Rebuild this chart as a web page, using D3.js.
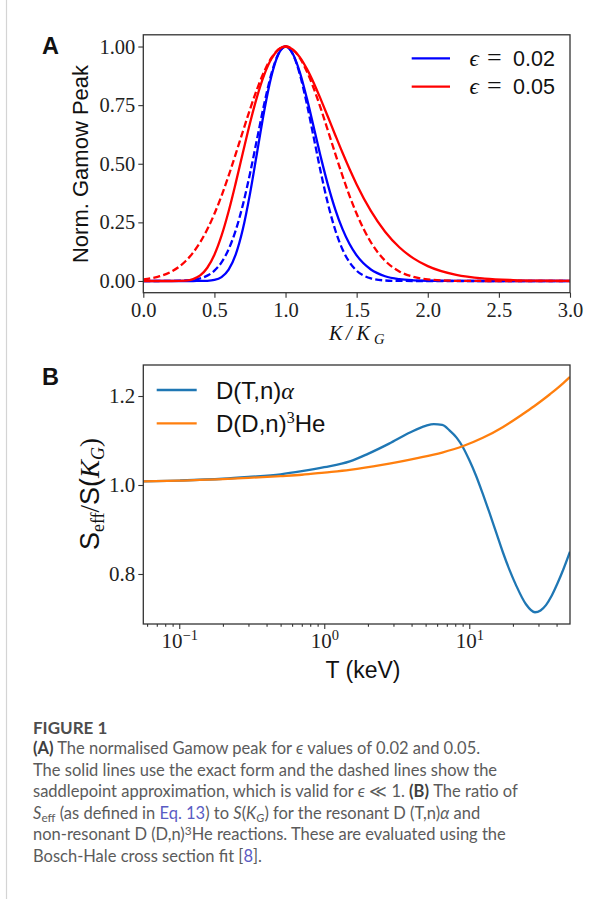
<!DOCTYPE html>
<html>
<head>
<meta charset="utf-8">
<script src="https://cdn.jsdelivr.net/npm/d3@7"></script>
<style>
  body { margin: 0; background: #fff; }
  svg { display: block; }
</style>
</head>
<body>
<svg id="fig" width="613" height="899"></svg>
<script>
// ---------- Panel A: normalised Gamow peak against K/K_G ----------
const kRatio = [0, 0.1, 0.2, 0.3, 0.35, 0.4, 0.45, 0.5, 0.55, 0.6, 0.65, 0.7, 0.75, 0.8, 0.85, 0.9, 0.95,
                1.0, 1.05, 1.1, 1.15, 1.2, 1.25, 1.3, 1.35, 1.4, 1.45, 1.5, 1.6, 1.7, 1.8, 1.9, 2.0,
                2.2, 2.4, 2.6, 2.8, 3.0];
// epsilon = 0.02, exact form
const exact002 = [0, 0, 0, 0, 0, 0.0001, 0.0008, 0.0042, 0.0164, 0.0482, 0.1133, 0.2213, 0.3716, 0.5479,
                  0.7249, 0.8722, 0.9672, 1.0, 0.9704, 0.8914, 0.7788, 0.6516, 0.5229, 0.4058, 0.3047,
                  0.2220, 0.1574, 0.1089, 0.0489, 0.0203, 0.0079, 0.0029, 0.0010, 0.0001, 0, 0, 0, 0];
// epsilon = 0.02, saddlepoint approximation
const saddle002 = [0, 0, 0.0003, 0.0022, 0.0051, 0.0111, 0.0228, 0.0439, 0.0796, 0.1353, 0.2163, 0.3247,
                   0.4578, 0.6065, 0.7548, 0.8825, 0.9692, 1.0, 0.9692, 0.8825, 0.7548, 0.6065, 0.4578,
                   0.3247, 0.2163, 0.1353, 0.0796, 0.0439, 0.0111, 0.0022, 0.0003, 0, 0, 0, 0, 0, 0, 0];
// epsilon = 0.05, exact form
const exact005 = [0, 0, 0, 0.0018, 0.0077, 0.0235, 0.0564, 0.1120, 0.1930, 0.2972, 0.4184, 0.5470, 0.6730,
                  0.7861, 0.8793, 0.9468, 0.9868, 1.0, 0.9881, 0.9550, 0.9048, 0.8426, 0.7716, 0.6972,
                  0.6217, 0.5477, 0.4774, 0.4120, 0.2990, 0.2103, 0.1440, 0.0963, 0.0632, 0.0258, 0.0100,
                  0.0037, 0.0013, 0.0005];
// epsilon = 0.05, saddlepoint approximation
const saddle005 = [0.0067, 0.0174, 0.0408, 0.0863, 0.1209, 0.1653, 0.2204, 0.2865, 0.3633, 0.4493, 0.5420,
                   0.6376, 0.7316, 0.8187, 0.8936, 0.9512, 0.9876, 1.0, 0.9876, 0.9512, 0.8936, 0.8187,
                   0.7316, 0.6376, 0.5420, 0.4493, 0.3633, 0.2865, 0.1653, 0.0863, 0.0408, 0.0174, 0.0067,
                   0.0007, 0, 0, 0, 0];
const peakTicks = [0, 0.25, 0.5, 0.75, 1.0];
const kTicks = [0, 0.5, 1.0, 1.5, 2.0, 2.5, 3.0];
const epsLabels = ["0.02", "0.05"];

// ---------- Panel B: S_eff / S(K_G) against temperature ----------
const tempDT = [0.0565, 0.1, 0.2, 0.3, 0.5, 0.7, 1.0, 1.5, 2.0, 2.8, 3.9, 5.0, 5.7, 6.5, 7.3, 8.2, 9.0, 10,
                11.1, 12.4, 13.7, 15.3, 17, 19, 21, 24.6, 28.4, 31, 33.8, 37, 40.6, 44.5, 49.5];
const ratioDT = [1.008, 1.010, 1.014, 1.018, 1.024, 1.031, 1.040, 1.053, 1.070, 1.093, 1.118, 1.133, 1.137,
                 1.135, 1.123, 1.106, 1.086, 1.056, 1.022, 0.980, 0.940, 0.894, 0.850, 0.808, 0.775, 0.732,
                 0.714, 0.718, 0.730, 0.751, 0.779, 0.810, 0.850];
const tempDD = [0.0565, 0.1, 0.2, 0.3, 0.5, 0.7, 1.0, 1.5, 2.5, 4.3, 6.5, 9.0, 12.4, 17, 23.3, 28, 32, 36,
                40, 44.5, 49.5];
const ratioDD = [1.008, 1.010, 1.013, 1.016, 1.020, 1.023, 1.028, 1.034, 1.045, 1.060, 1.073, 1.087, 1.106,
                 1.130, 1.159, 1.177, 1.191, 1.204, 1.216, 1.229, 1.243];
const ratioTicks = [0.8, 1.0, 1.2];
const tempMajor = [0.1, 1, 10];
const tempMajorExp = ["\u22121", "0", "1"];
const tempMinor = [0.06, 0.07, 0.08, 0.09, 0.2, 0.3, 0.4, 0.5, 0.6, 0.7, 0.8, 0.9,
                   2, 3, 4, 5, 6, 7, 8, 9, 20, 30, 40];

// ---------- shared styling ----------
const SERIF = "'Liberation Serif', 'DejaVu Serif', serif";
const SANS = "'Liberation Sans', Arial, sans-serif";
const CAP = "Lato, 'Open Sans', sans-serif";
const SPINE = "#333";
const LW = 2.3;

const svg = d3.select("#fig");
svg.append("rect").attr("width", 613).attr("height", 899).attr("fill", "#fff");
// page rule on the left edge
svg.append("line").attr("x1", 6.5).attr("x2", 6.5).attr("y1", 0).attr("y2", 899)
  .attr("stroke", "#d4d4d4").attr("stroke-width", 1.2);

function styleAxis(g, size) {
  g.select(".domain").remove();
  g.selectAll(".tick line").attr("stroke", SPINE).attr("stroke-width", 1.1);
  g.selectAll(".tick text").attr("fill", "#222").style("font-family", SERIF).style("font-size", size + "px");
}

// ================= Panel A =================
const pa = { left: 143.3, right: 570, top: 34.8, bottom: 292.7 };
const xA = d3.scaleLinear().domain([0, 3]).range([pa.left, pa.right]);
const yA = d3.scaleLinear().domain([-0.05, 1.05]).range([pa.bottom, pa.top]);

svg.append("clipPath").attr("id", "clipA").append("rect")
  .attr("x", pa.left).attr("y", pa.top).attr("width", pa.right - pa.left).attr("height", pa.bottom - pa.top);

const lineA = d3.line().x((d, i) => xA(kRatio[i])).y(d => yA(d)).curve(d3.curveMonotoneX);
const gA = svg.append("g").attr("clip-path", "url(#clipA)");
[
  { data: exact002, color: "#0000ff", dash: null },
  { data: saddle002, color: "#0000ff", dash: "7,3.2" },
  { data: exact005, color: "#ff0000", dash: null },
  { data: saddle005, color: "#ff0000", dash: "7,3.2" }
].forEach(s => {
  gA.append("path").attr("d", lineA(s.data)).attr("fill", "none")
    .attr("stroke", s.color).attr("stroke-width", LW)
    .attr("stroke-dasharray", s.dash);
});

svg.append("g").attr("transform", `translate(0,${pa.bottom})`)
  .call(d3.axisBottom(xA).tickValues(kTicks).tickSize(5).tickFormat(d3.format(".1f")))
  .call(g => styleAxis(g, 20.5))
  .call(g => g.selectAll(".tick text").attr("y", 24.3).attr("dy", null));

svg.append("g").attr("transform", `translate(${pa.left},0)`)
  .call(d3.axisLeft(yA).tickValues(peakTicks).tickSize(5).tickPadding(3).tickFormat(d3.format(".2f")))
  .call(g => styleAxis(g, 20.5));

svg.append("rect").attr("x", pa.left).attr("y", pa.top)
  .attr("width", pa.right - pa.left).attr("height", pa.bottom - pa.top)
  .attr("fill", "none").attr("stroke", SPINE).attr("stroke-width", 1.3);

// legend A
const legA = svg.append("g");
["#0000ff", "#ff0000"].forEach((c, i) => {
  const y = 58.3 + i * 28.4;
  legA.append("line").attr("x1", 411.7).attr("x2", 450).attr("y1", y).attr("y2", y)
    .attr("stroke", c).attr("stroke-width", LW);
  legA.append("text").attr("x", 469.5).attr("y", y + 7.5).text("\u03f5")
    .style("font-family", SERIF).style("font-style", "italic").style("font-size", "23px").attr("fill", "#111");
  legA.append("text").attr("x", 487).attr("y", y + 7.5).text("=")
    .style("font-family", SERIF).style("font-size", "26px").attr("fill", "#111");
  legA.append("text").attr("x", 513).attr("y", y + 7.5).text(epsLabels[i])
    .style("font-family", SANS).style("font-size", "21.5px").attr("fill", "#111");
});

// axis titles A
svg.append("text").attr("transform", "translate(88,164) rotate(-90)").attr("text-anchor", "middle")
  .style("font-family", SANS).style("font-size", "22px").attr("fill", "#111").text("Norm. Gamow Peak");
const xlabA = svg.append("text").attr("y", 339.5)
  .style("font-family", SERIF).style("font-style", "italic").style("font-size", "20px").attr("fill", "#111");
xlabA.append("tspan").attr("x", 329).text("K");
xlabA.append("tspan").attr("x", 346).text("/");
xlabA.append("tspan").attr("x", 356.5).text("K");
xlabA.append("tspan").attr("x", 374).attr("dy", 4).style("font-size", "14.5px").text("G");

svg.append("text").attr("x", 42).attr("y", 53.5).text("A")
  .style("font-family", SANS).style("font-weight", "bold").style("font-size", "23.5px").attr("fill", "#111");

// ================= Panel B =================
const pb = { left: 143.3, right: 570, top: 365, bottom: 624 };
const xB = d3.scaleLog().domain([0.0565, 49.5]).range([pb.left, pb.right]);
const yB = d3.scaleLinear().domain([0.6876, 1.2697]).range([pb.bottom, pb.top]);

svg.append("clipPath").attr("id", "clipB").append("rect")
  .attr("x", pb.left).attr("y", pb.top).attr("width", pb.right - pb.left).attr("height", pb.bottom - pb.top);
const gB = svg.append("g").attr("clip-path", "url(#clipB)");
const lineDT = d3.line().x((d, i) => xB(tempDT[i])).y(d => yB(d)).curve(d3.curveMonotoneX);
const lineDD = d3.line().x((d, i) => xB(tempDD[i])).y(d => yB(d)).curve(d3.curveMonotoneX);
gB.append("path").attr("d", lineDT(ratioDT)).attr("fill", "none").attr("stroke", "#1f77b4").attr("stroke-width", LW);
gB.append("path").attr("d", lineDD(ratioDD)).attr("fill", "none").attr("stroke", "#ff7f0e").attr("stroke-width", LW);

svg.append("g").attr("transform", `translate(0,${pb.bottom})`)
  .call(d3.axisBottom(xB).tickValues(tempMinor).tickSize(2.8).tickFormat(""))
  .call(g => styleAxis(g, 20));
svg.append("g").attr("transform", `translate(0,${pb.bottom})`)
  .call(d3.axisBottom(xB).tickValues(tempMajor).tickSize(5).tickFormat(""))
  .call(g => styleAxis(g, 21))
  .call(g => g.selectAll(".tick text").attr("y", 24).attr("dy", null).each(function (d, i) {
    const t = d3.select(this);
    t.append("tspan").text("10");
    t.append("tspan").attr("dy", -8).style("font-size", "14.5px").text(tempMajorExp[i]);
  }));

svg.append("g").attr("transform", `translate(${pb.left},0)`)
  .call(d3.axisLeft(yB).tickValues(ratioTicks).tickSize(5).tickPadding(3).tickFormat(d3.format(".1f")))
  .call(g => styleAxis(g, 21));

svg.append("rect").attr("x", pb.left).attr("y", pb.top)
  .attr("width", pb.right - pb.left).attr("height", pb.bottom - pb.top)
  .attr("fill", "none").attr("stroke", SPINE).attr("stroke-width", 1.3);

// legend B
const legB = svg.append("g");
[["#1f77b4", 390], ["#ff7f0e", 423.3]].forEach(([c, y]) => {
  legB.append("line").attr("x1", 156.7).attr("x2", 196.7).attr("y1", y).attr("y2", y)
    .attr("stroke", c).attr("stroke-width", LW);
});
const l1 = legB.append("text").attr("x", 216).attr("y", 398.5)
  .style("font-family", SANS).style("font-size", "24px").attr("fill", "#111");
l1.append("tspan").text("D(T,n)");
l1.append("tspan").style("font-family", SERIF).style("font-style", "italic").text("\u03b1");
const l2 = legB.append("text").attr("x", 216).attr("y", 431.8)
  .style("font-family", SANS).style("font-size", "24px").attr("fill", "#111");
l2.append("tspan").text("D(D,n)");
l2.append("tspan").attr("dy", -9).style("font-family", SERIF).style("font-size", "16px").text("3");
l2.append("tspan").attr("dy", 9).text("He");

// axis titles B
const ylabB = svg.append("text").attr("transform", "translate(99,494) rotate(-90)").attr("text-anchor", "middle")
  .style("font-family", SANS).style("font-size", "27px").attr("fill", "#111");
ylabB.append("tspan").text("S");
ylabB.append("tspan").attr("dy", 5).style("font-family", SERIF).style("font-size", "18px").text("eff");
ylabB.append("tspan").attr("dy", -5).style("font-family", SERIF).text("/");
ylabB.append("tspan").text("S(");
ylabB.append("tspan").style("font-family", SERIF).style("font-style", "italic").text("K");
ylabB.append("tspan").attr("dy", 5).style("font-family", SERIF).style("font-style", "italic").style("font-size", "18px").text("G");
ylabB.append("tspan").attr("dy", -5).style("font-family", SERIF).text(")");

svg.append("text").attr("x", 363).attr("y", 678).attr("text-anchor", "middle")
  .style("font-family", SANS).style("font-size", "23px").attr("fill", "#111").text("T (keV)");

svg.append("text").attr("x", 42).attr("y", 385).text("B")
  .style("font-family", SANS).style("font-weight", "bold").style("font-size", "23.5px").attr("fill", "#111");

// ================= Caption =================
const capColor = "#5b5b5b";
const linkColor = "#5a5cc4";
svg.append("text").attr("x", 33).attr("y", 734).text("FIGURE 1")
  .style("font-family", CAP).style("font-weight", "bold").style("font-size", "17px").attr("fill", "#4d4d4d");

const capLines = [
  [{ t: "(A)", b: 1 }, { t: " The normalised Gamow peak for " }, { t: "\u03f5", i: 1 }, { t: " values of 0.02 and 0.05." }],
  [{ t: "The solid lines use the exact form and the dashed lines show the" }],
  [{ t: "saddlepoint approximation, which is valid for " }, { t: "\u03f5", i: 1 }, { t: " \u226a 1. " }, { t: "(B)", b: 1 }, { t: " The ratio of" }],
  [{ t: "S", i: 1 }, { t: "eff", sub: 1 }, { t: " (as defined in " }, { t: "Eq. 13", link: 1 }, { t: ") to " },
   { t: "S", i: 1 }, { t: "(" }, { t: "K", i: 1 }, { t: "G", i: 1, sub: 1 }, { t: ")" },
   { t: " for the resonant D (T,n)" }, { t: "\u03b1", i: 1 }, { t: " and" }],
  [{ t: "non-resonant D (D,n)" }, { t: "3", sup: 1 }, { t: "He reactions. These are evaluated using the" }],
  [{ t: "Bosch-Hale cross section fit [" }, { t: "8", link: 1 }, { t: "]." }]
];
const capBase = [754, 775.5, 797, 818.5, 840, 861.5];
const capG = svg.append("g").style("font-family", CAP).style("font-size", "15px").attr("fill", capColor);
const capNodes = capLines.map((parts, li) => {
  const t = capG.append("text").attr("x", 33).attr("y", capBase[li]);
  let shift = 0;
  parts.forEach(p => {
    const s = t.append("tspan").text(p.t);
    let want = p.sub ? 3.5 : p.sup ? -5.5 : 0;
    if (want !== shift) { s.attr("dy", want - shift); shift = want; }
    if (p.sub || p.sup) s.style("font-size", "72%");
    if (p.b) s.style("font-weight", "bold").attr("fill", "#3f3f3f");
    if (p.i) s.style("font-style", "italic");
    if (p.link) s.attr("fill", linkColor);
  });
  return t;
});
// size the caption so the full-width line spans the text column
const natural = capNodes[1].node().getComputedTextLength();
capG.style("font-size", (15 * 464 / natural).toFixed(2) + "px");
</script>
</body>
</html>
